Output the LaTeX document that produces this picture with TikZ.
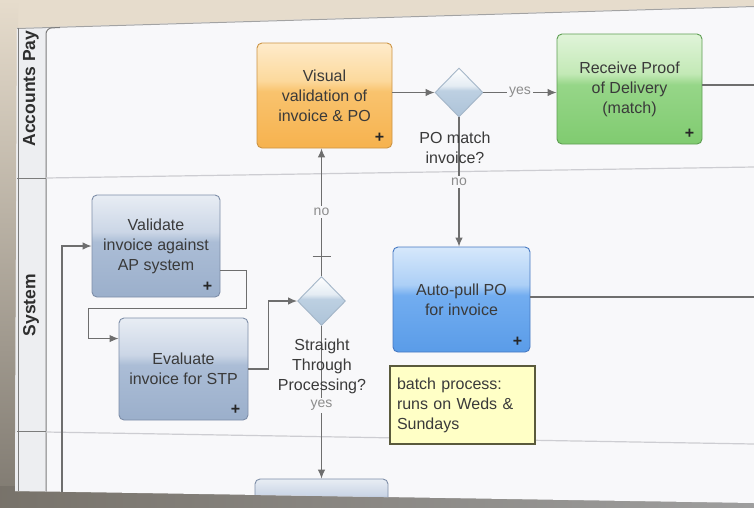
\documentclass[tikz,border=0pt]{standalone}
\usepackage{fontspec}
\setmainfont{Liberation Sans}
\usetikzlibrary{arrows.meta, positioning, shapes.geometric, calc}

% Colours of the screen and the photo round it
\definecolor{photobg}{HTML}{E6DCCC}
\definecolor{paper}{HTML}{F8F8FA}
\definecolor{headfill}{HTML}{EDEEF1}
\definecolor{frameline}{HTML}{7C7C7C}
\definecolor{laneline}{HTML}{CDCDD2}
\definecolor{flowgray}{HTML}{6E6E6E}
\definecolor{lblgray}{HTML}{8C8C8C}
\definecolor{taskink}{HTML}{3A3A3A}
\definecolor{memofill}{HTML}{FFFFC6}
\definecolor{memoline}{HTML}{5A5A3C}
% task colours: D border, B bottom, L lower, U upper, T top
\definecolor{orangeD}{HTML}{CC9444}\definecolor{orangeB}{HTML}{F6B24E}
\definecolor{orangeL}{HTML}{F9C36E}\definecolor{orangeU}{HTML}{FCD99C}
\definecolor{orangeT}{HTML}{FEEBCB}
\definecolor{greenD}{HTML}{5E9E52}\definecolor{greenB}{HTML}{80CB70}
\definecolor{greenL}{HTML}{96D688}\definecolor{greenU}{HTML}{C3E9B6}
\definecolor{greenT}{HTML}{E0F4D9}
\definecolor{blueD}{HTML}{4779C2}\definecolor{blueB}{HTML}{5A9CE8}
\definecolor{blueL}{HTML}{72ADF0}\definecolor{blueU}{HTML}{ACCFF6}
\definecolor{blueT}{HTML}{D6E8FB}
\definecolor{steelD}{HTML}{7E8EA8}\definecolor{steelB}{HTML}{9BAFCB}
\definecolor{steelL}{HTML}{ABBDD6}\definecolor{steelU}{HTML}{CBD6E6}
\definecolor{steelT}{HTML}{E8EDF4}
\definecolor{diaD}{HTML}{A4B6C8}\definecolor{diaB}{HTML}{ADC3D8}
\definecolor{diaL}{HTML}{BDD0E2}\definecolor{diaU}{HTML}{E4ECF3}
\definecolor{diaT}{HTML}{FFFFFF}

\newcommand{\mkgloss}[1]{%
  \pgfdeclareverticalshading{#1gloss}{100bp}{color(0bp)=(#1B); color(25bp)=(#1B);
    color(52bp)=(#1L); color(57bp)=(#1U); color(75bp)=(#1T); color(100bp)=(#1T)}}
\mkgloss{orange}\mkgloss{green}\mkgloss{blue}\mkgloss{steel}\mkgloss{dia}

\begin{document}
\begin{tikzpicture}[x=1pt, y=-1pt, >=Latex, font=\fontsize{16}{20}\selectfont,
    task/.style={draw=#1D, shading=#1gloss, rounded corners=5pt, line width=0.9pt,
      align=center, text=taskink, inner sep=2pt},
    decision/.style={diamond, draw=diaD, shading=diagloss, line width=0.9pt,
      minimum width=48pt, minimum height=49pt, inner sep=0pt},
    memo/.style={draw=memoline, fill=memofill, line width=1.1pt, text=taskink,
      align=left, text width=131pt, inner xsep=7pt, minimum height=78pt},
    plusmark/.style={font=\bfseries\fontsize{16}{16}\selectfont, text=black!85, inner sep=0pt},
    flow/.style={draw=flowgray, line width=1.1pt, -{Latex[length=9pt, width=7.5pt]}},
    link/.style={draw=flowgray, line width=1.1pt},
    lbl/.style={fill=paper, text=lblgray, inner sep=2pt, font=\fontsize{14}{16}\selectfont},
    dtext/.style={text=taskink, align=center, inner sep=0pt},
    lanehead/.style={rotate=90, font=\bfseries\fontsize{17.5}{20}\selectfont, text=black!82}]
    \useasboundingbox (0,0) rectangle (754,507);
    % 1. Photo around the screen
    \fill[photobg] (0,0) rectangle (754,507);
    \shade[top color=photobg, bottom color=black!45!photobg] (0,0) rectangle (18,507);
    \shade[left color=black!48!photobg, right color=black!38] (0,486) rectangle (754,507);
    \fill[paper] (17,28) -- (754,6) -- (754,503) -- (15,491) -- cycle;
    \begin{scope}
    \clip (17,28) -- (754,6) -- (754,503) -- (15,491) -- cycle;
    % 2. Lane headers and lane lines
    \fill[headfill] (17,28) -- (46,28) -- (46,491) -- (15,491) -- cycle;
    \draw[frameline!70, line width=1pt] (17,28.5) -- (754,6.5);
    \draw[frameline, line width=1pt] (18,28) -- (18,491);
    \draw[frameline, line width=1pt, rounded corners=6pt] (46,492) -- (46,28) -- (60,27.6);
    \draw[frameline, line width=1pt] (17,178) -- (46,178);
    \draw[frameline, line width=1pt] (17,431) -- (46,431);
    \draw[laneline, line width=1.2pt] (46,178) -- (754,167);
    \draw[laneline, line width=1.2pt] (46,432) -- (754,444);
    \node[lanehead, anchor=west] (hacc) at (31,150) {Accounts Pay};
    \node[lanehead] (hsys) at (31,305) {System};
    % 3. Tasks and gateways
    \node[task=orange, minimum width=135pt, minimum height=105pt] (vis) at (324.5,95.5)
        {Visual\\validation of\\invoice \& PO};
    \node[decision] (dm1) at (459,92.5) {};
    \node[task=green, minimum width=145pt, minimum height=110pt] (rcv) at (629.5,89)
        {Receive Proof\\of Delivery\\(match)};
    \node[task=steel, minimum width=128pt, minimum height=102pt] (val) at (156,246)
        {Validate\\invoice against\\AP system};
    \node[task=steel, minimum width=129pt, minimum height=102pt] (evl) at (183.5,369)
        {Evaluate\\invoice for STP};
    \node[decision] (dm2) at (321.5,301) {};
    \node[task=blue, minimum width=137pt, minimum height=105pt] (apo) at (461.5,299.5)
        {Auto-pull PO\\for invoice};
    \node[task=steel, minimum width=133pt, minimum height=44pt] (nxt) at (321.5,501) {};
    \node[memo] (bat) at (462.5,405) {batch process:\\runs on Weds \&\\Sundays};
    % sub-process markers
    \foreach \t in {vis, rcv, val, evl, apo}
        \node[plusmark] (\t plus) at ($(\t.south east)+(-13,-11)$) {+};
    % 4. Sequence flows
    \coordinate (rimR) at (770,0);
    \coordinate (loopin) at (62,520);
    \draw[flow] (vis.east |- dm1.west) -- (dm1.west);
    \draw[flow] (dm1.east) -- node[lbl] {yes} (dm1.east -| rcv.west);
    \draw[link] (rcv.east |- 0,85) -- (rimR |- 0,85);
    \draw[flow] (dm1.south) -- node[lbl] {no} (dm1.south |- apo.north);
    \draw[link] (apo.east |- 0,297) -- (rimR |- 0,297);
    \draw[flow] (loopin) |- (val.west);
    \draw[flow] ($(val.south east)+(0,-27)$) -| ($(val.south east)+(26,11)$)
        -| ($(evl.north west)+(-30,21)$) -- ($(evl.north west)+(0,21)$);
    \draw[flow] (evl.east) -- ++(20,0) |- (dm2.west);
    \draw[flow] (dm2.north) -- node[lbl] {no} (dm2.north |- vis.south);
    \draw[link] ($(dm2.north)+(-9,-20)$) -- ++(18,0);
    \draw[flow] (dm2.south) -- node[lbl, pos=0.52] {yes} (nxt.north);
    % 5. Gateway questions
    \node[dtext] (dm1q) at (455,148) {PO match\\invoice?};
    \node[dtext] (dm2q) at (322,366) {Straight\\Through\\Processing?};
    \end{scope}
\end{tikzpicture}
\end{document}
